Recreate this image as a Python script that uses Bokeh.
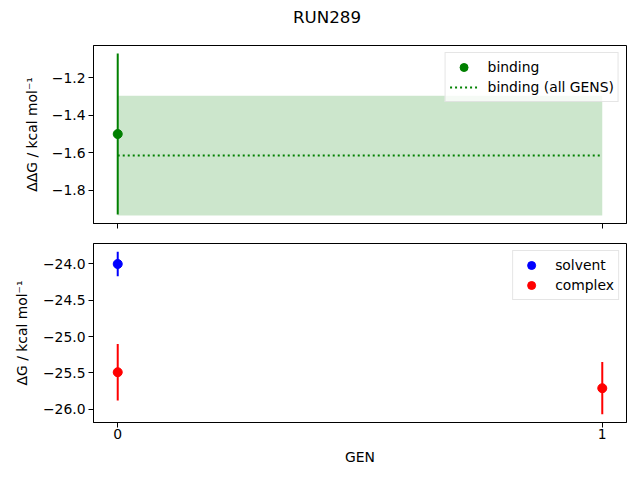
from bokeh.plotting import figure
from bokeh.layouts import column
from bokeh.models import Range1d, FixedTicker, Legend, LegendItem
from bokeh.embed import file_html
from bokeh.resources import INLINE
from bokeh.core.properties import value

# ---- data ----
title_text = "RUN289"
gen_ticks = [0, 1]
gen_tick_labels = ["0", "1"]

binding_gens = [0]
binding_vals = [-1.50]
binding_errs = [0.43]

binding_all_x = [0, 1]
binding_all_val = -1.615
binding_all_err = 0.32

solvent_gens = [0]
solvent_vals = [-24.00]
solvent_errs = [0.17]

complex_gens = [0, 1]
complex_vals = [-25.49, -25.71]
complex_errs = [0.39, 0.36]

top_yticks = [-1.8, -1.6, -1.4, -1.2]
bot_yticks = [-26.0, -25.5, -25.0, -24.5, -24.0]

FONT = "DejaVu Sans"
FS = "13.9px"


def pad_range(lo, hi, frac=0.05):
    d = hi - lo
    return lo - frac * d, hi + frac * d


def minus(s):
    return s.replace("-", "\u2212")


x_lo, x_hi = pad_range(min(gen_ticks), max(gen_ticks))
x_range = Range1d(x_lo, x_hi)

t_lo = min(min(v - e for v, e in zip(binding_vals, binding_errs)), binding_all_val - binding_all_err)
t_hi = max(max(v + e for v, e in zip(binding_vals, binding_errs)), binding_all_val + binding_all_err)
ty0, ty1 = pad_range(t_lo, t_hi)

allv = [(v, e) for v, e in zip(solvent_vals, solvent_errs)] + [(v, e) for v, e in zip(complex_vals, complex_errs)]
b_lo = min(v - e for v, e in allv)
b_hi = max(v + e for v, e in allv)
by0, by1 = pad_range(b_lo, b_hi)


def style(p, yticks, show_x_labels):
    p.outline_line_color = "black"
    p.outline_line_width = 1
    p.xgrid.grid_line_color = None
    p.ygrid.grid_line_color = None
    for ax in (p.xaxis[0], p.yaxis[0]):
        ax.major_tick_in = 0
        ax.major_tick_out = 5
        ax.minor_tick_line_color = None
        ax.axis_line_color = "black"
        ax.major_tick_line_color = "black"
        ax.major_label_text_font = FONT
        ax.major_label_text_font_size = FS
        ax.major_label_text_color = "black"
        ax.axis_label_text_font = FONT
        ax.axis_label_text_font_size = FS
        ax.axis_label_text_font_style = "normal"
        ax.axis_label_text_color = "black"
    p.xaxis[0].ticker = FixedTicker(ticks=gen_ticks)
    if show_x_labels:
        p.xaxis[0].major_label_overrides = {t: l for t, l in zip(gen_ticks, gen_tick_labels)}
        p.xaxis[0].major_label_standoff = 1
    else:
        p.xaxis[0].major_label_overrides = {t: "" for t in gen_ticks}
        p.xaxis[0].major_label_standoff = 0
    p.yaxis[0].ticker = FixedTicker(ticks=yticks)
    p.yaxis[0].major_label_overrides = {t: minus(f"{t:.1f}") for t in yticks}
    p.yaxis[0].major_label_standoff = 3


def make_legend(p, items):
    leg = Legend(items=items, location="top_right")
    leg.label_text_font = FONT
    leg.label_text_font_size = FS
    leg.label_text_color = "black"
    leg.border_line_color = "#cccccc"
    leg.border_line_width = 1
    leg.background_fill_alpha = 0.8
    leg.padding = 4
    leg.spacing = 0
    leg.margin = 7
    leg.glyph_width = 28
    leg.glyph_height = 20
    leg.label_height = 20
    leg.label_standoff = 10
    p.add_layout(leg)


# ---- title strip ----
head = figure(width=632, height=32, x_range=Range1d(0, 1), y_range=Range1d(0, 1),
              output_backend="svg", toolbar_location=None,
              x_axis_location=None, y_axis_location=None,
              min_border_left=8, min_border_right=0, min_border_top=0, min_border_bottom=0)
head.outline_line_color = None
head.xgrid.grid_line_color = None
head.ygrid.grid_line_color = None
head.text(x=[0.5], y=[0.5], text=[title_text], text_align="center", text_baseline="middle",
          x_offset=-33,
          text_font=value(FONT), text_font_size="16.7px", text_color="black")

# ---- top panel ----
top = figure(width=632, height=201, x_range=x_range, y_range=Range1d(ty0, ty1),
             output_backend="svg", toolbar_location=None,
             min_border_left=93, min_border_right=6, min_border_top=13, min_border_bottom=10)
style(top, top_yticks, False)
top.yaxis[0].axis_label = "\u0394\u0394G / kcal mol\u207b\u00b9"
top.yaxis[0].axis_label_standoff = 9

top.varea(x=binding_all_x,
          y1=[binding_all_val - binding_all_err] * len(binding_all_x),
          y2=[binding_all_val + binding_all_err] * len(binding_all_x),
          fill_color="green", fill_alpha=0.2)
r_all = top.line(x=binding_all_x, y=[binding_all_val] * len(binding_all_x),
                 line_color="green", line_width=2, line_dash="2 3")
top.segment(x0=binding_gens, y0=[v - e for v, e in zip(binding_vals, binding_errs)],
            x1=binding_gens, y1=[v + e for v, e in zip(binding_vals, binding_errs)],
            line_color="green", line_width=2)
r_b = top.scatter(x=binding_gens, y=binding_vals, size=9, marker="circle",
                  fill_color="green", line_color="green")
make_legend(top, [LegendItem(label="binding", renderers=[r_b]),
                  LegendItem(label="binding (all GENS)", renderers=[r_all])])

# ---- bottom panel ----
bot = figure(width=632, height=240, x_range=x_range, y_range=Range1d(by0, by1),
             output_backend="svg", toolbar_location=None, title=None,
             min_border_left=93, min_border_right=6, min_border_top=10, min_border_bottom=51)
style(bot, bot_yticks, True)
bot.yaxis[0].axis_label = "\u0394G / kcal mol\u207b\u00b9"
bot.yaxis[0].axis_label_standoff = 10
bot.xaxis[0].axis_label = "GEN"
bot.xaxis[0].axis_label_standoff = 7

bot.segment(x0=solvent_gens, y0=[v - e for v, e in zip(solvent_vals, solvent_errs)],
            x1=solvent_gens, y1=[v + e for v, e in zip(solvent_vals, solvent_errs)],
            line_color="blue", line_width=2)
r_s = bot.scatter(x=solvent_gens, y=solvent_vals, size=9, marker="circle",
                  fill_color="blue", line_color="blue")
bot.segment(x0=complex_gens, y0=[v - e for v, e in zip(complex_vals, complex_errs)],
            x1=complex_gens, y1=[v + e for v, e in zip(complex_vals, complex_errs)],
            line_color="red", line_width=2)
r_c = bot.scatter(x=complex_gens, y=complex_vals, size=9, marker="circle",
                  fill_color="red", line_color="red")
make_legend(bot, [LegendItem(label="solvent", renderers=[r_s]),
                  LegendItem(label="complex", renderers=[r_c])])

layout = column(head, top, bot)
open("out.html", "w").write(file_html(layout, INLINE))
